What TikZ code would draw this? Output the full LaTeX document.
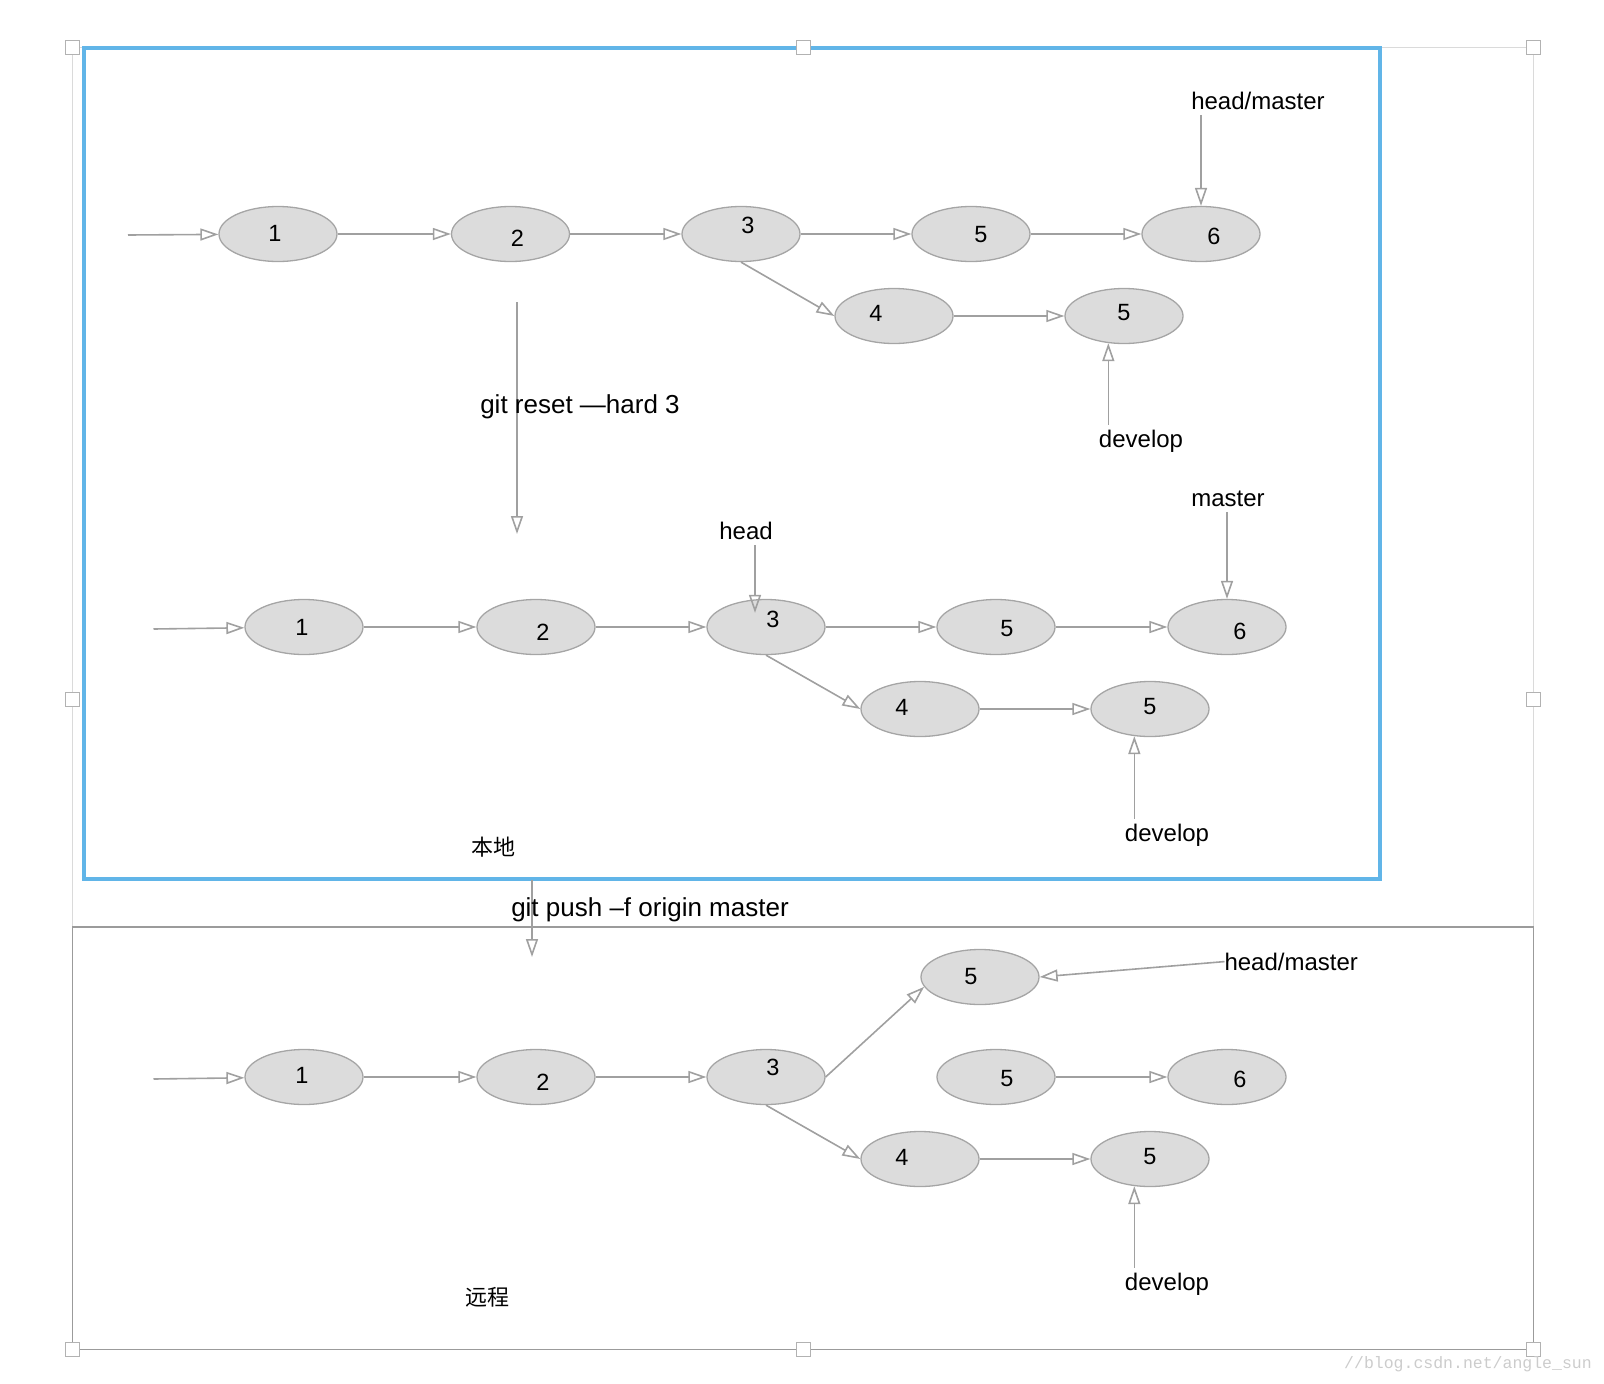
\documentclass[tikz,border=0pt]{standalone}
\usepackage{fontspec}
\setmainfont{Liberation Sans}
\newfontfamily\cjkfont{Noto Sans CJK SC}
\newfontfamily\markfont{Liberation Mono}
\usetikzlibrary{shapes.geometric}
\usetikzlibrary{arrows.meta}
\definecolor{frameblue}{RGB}{97,181,232}
\definecolor{nodefill}{RGB}{220,220,220}
\definecolor{nodeline}{RGB}{165,165,165}
\definecolor{linegrey}{RGB}{160,160,160}
\definecolor{boxgrey}{RGB}{155,155,155}
\definecolor{outergrey}{RGB}{218,218,218}
\tikzset{
    commit/.style={ellipse,draw=nodeline,fill=nodefill,line width=1.3pt,
        minimum width=118pt,minimum height=55pt,inner sep=0pt},
    num/.style={font=\fontsize{23.5}{26}\selectfont,inner sep=0pt},
    lbl/.style={font=\fontsize{24}{27}\selectfont,inner sep=0pt,outer sep=5pt},
    cmd/.style={lbl,font=\fontsize{26}{29}\selectfont},
    link/.style={draw=linegrey,line width=1.6pt,
        -{Triangle[open,length=18pt,width=12pt]}},
    handle/.style={draw=gray!60,fill=white,line width=1pt}
}

\begin{document}
\begin{tikzpicture}[x=1pt,y=-1pt]
\useasboundingbox (0,0) rectangle (1604,1384);
% frames
\draw[outergrey,line width=1pt] (72.5,47.5) rectangle (1533.5,1349.5);
\draw[boxgrey,line width=1.5pt] (72.5,927) rectangle (1533.5,1349.5);
\draw[frameblue,line width=3.5pt] (84,48) rectangle (1380,879);
\foreach \x/\y in {72.5/47.5,803/47.5,1533.5/47.5,72.5/699,1533.5/699,72.5/1349.5,803/1349.5,1533.5/1349.5}
    \filldraw[handle] (\x-7,\y-7) rectangle ++(14,14);

% before the reset
\node[commit,label={[num,xshift=-3pt,yshift=1pt]center:1}] (a1) at (278,234) {};
\node[commit,label={[num,xshift=7pt,yshift=-4pt]center:2}] (a2) at (510.5,234) {};
\node[commit,label={[num,xshift=7pt,yshift=9pt]center:3}] (a3) at (741,234) {};
\node[commit,label={[num,xshift=10pt,yshift=-1pt]center:5}] (a5) at (971,234) {};
\node[commit,label={[num,xshift=13pt,yshift=-2pt]center:6}] (a6) at (1201,234) {};
\node[commit,label={[num,xshift=-18pt,yshift=3pt]center:4}] (a4) at (894,316) {};
\node[commit,label={[num,yshift=3pt]center:5}] (b5) at (1124,316) {};
\coordinate (s1) at (128,235);
\draw[link] (s1) -- (a1);
\draw[link] (a1) -- (a2);
\draw[link] (a2) -- (a3);
\draw[link] (a3) -- (a5);
\draw[link] (a5) -- (a6);
\draw[link] (a3.south) -- (a4.west);
\draw[link] (a4) -- (b5);
\node[lbl] (hm1) at (1258,101) {head/master};
\node[lbl] (dv1) at (1141,441) {develop};
\draw[link] (hm1.south -| a6.north) -- (a6.north);
\draw[link] (dv1.north -| b5.240) -- (b5.240);

% git reset
\coordinate (r1) at (517,302);
\coordinate (r2) at (517,534);
\draw[link] (r1) -- (r2);
\node[cmd] (rst) at (580,407) {git reset —hard 3};

% after the reset
\node[commit,label={[num,xshift=-2pt]center:1}] (c1) at (304,627) {};
\node[commit,label={[num,xshift=7pt,yshift=-5pt]center:2}] (c2) at (536,627) {};
\node[commit,label={[num,xshift=7pt,yshift=8pt]center:3}] (c3) at (766,627) {};
\node[commit,label={[num,xshift=11pt,yshift=-2pt]center:5}] (c5) at (996,627) {};
\node[commit,label={[num,xshift=13pt,yshift=-4pt]center:6}] (c6) at (1227,627) {};
\node[commit,label={[num,xshift=-18pt,yshift=2pt]center:4}] (c4) at (920,709) {};
\node[commit,label={[num,yshift=2pt]center:5}] (d5) at (1150,709) {};
\coordinate (s2) at (153.5,629);
\draw[link] (s2) -- (c1);
\draw[link] (c1) -- (c2);
\draw[link] (c2) -- (c3);
\draw[link] (c3) -- (c5);
\draw[link] (c5) -- (c6);
\draw[link] (c3.south) -- (c4.west);
\draw[link] (c4) -- (d5);
\node[lbl] (hd2) at (746,531) {head};
\node[lbl] (ms2) at (1228,499) {master};
\node[lbl] (dv2) at (1167,835) {develop};
\draw[link] ([xshift=9pt]hd2.south) -- ([xshift=-11pt,yshift=-14pt]c3.north);
\draw[link] (ms2.south -| c6.north) -- (c6.north);
\draw[link] (dv2.north -| d5.240) -- (d5.240);
\node[lbl,font=\cjkfont\fontsize{22}{26}\selectfont] (loc) at (493,847) {本地};

% git push
\coordinate (p1) at (532,880);
\coordinate (p2) at (532,957);
\draw[link] (p1) -- (p2);
\node[cmd] (psh) at (650,909.5) {git push –f origin master};

% remote
\node[commit,label={[num,xshift=-2pt,yshift=2pt]center:1}] (e1) at (304,1077) {};
\node[commit,label={[num,xshift=7pt,yshift=-5pt]center:2}] (e2) at (536,1077) {};
\node[commit,label={[num,xshift=7pt,yshift=10pt]center:3}] (e3) at (766,1077) {};
\node[commit,label={[num,xshift=-9pt]center:5}] (t5) at (980,977) {};
\node[commit,label={[num,xshift=11pt,yshift=-2pt]center:5}] (e5) at (996,1077) {};
\node[commit,label={[num,xshift=13pt,yshift=-2pt]center:6}] (e6) at (1227,1077) {};
\node[commit,label={[num,xshift=-18pt,yshift=2pt]center:4}] (e4) at (920,1159) {};
\node[commit,label={[num,yshift=2pt]center:5}] (g5) at (1150,1159) {};
\coordinate (s3) at (153.5,1079);
\draw[link] (s3) -- (e1);
\draw[link] (e1) -- (e2);
\draw[link] (e2) -- (e3);
\draw[link] (e3.east) -- (t5.190);
\draw[link] (e3.south) -- (e4.west);
\draw[link] (e4) -- (g5);
\draw[link] (e5) -- (e6);
\node[lbl,outer sep=0pt,anchor=west] (hm3) at (1224.5,961.6) {head/master};
\node[lbl] (dv3) at (1167,1284) {develop};
\draw[link] (hm3.west) -- (t5.east);
\draw[link] (dv3.north -| g5.240) -- (g5.240);
\node[lbl,font=\cjkfont\fontsize{22}{26}\selectfont] (rem) at (487,1297) {远程};

\node[inner sep=0pt,text=gray!40,font=\markfont\fontsize{16.5}{18}\selectfont] (wm) at (1468,1364) {//blog.csdn.net/angle\_sun};
\end{tikzpicture}
\end{document}
